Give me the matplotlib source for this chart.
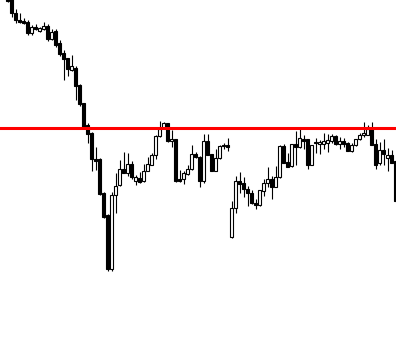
import matplotlib
matplotlib.use("Agg")
import matplotlib.pyplot as plt
import numpy as np

opens = [415, 405, 387.3, 380, 379, 377.7, 367.3, 372.7, 369.3, 371.3,
         374, 361.3, 368.7, 356.7, 346.7, 342, 330.5, 332, 315, 296.7,
         275, 267.3, 241, 240.7, 207.3, 184.7, 131, 204.7, 214.7, 230.7,
         227.3, 236, 218.7, 222, 218.7, 229.3, 235.3, 244.7, 264, 272,
         276.7, 258.7, 260.7, 220.7, 220.7, 226, 231.3, 246, 243.3, 218.7,
         258.7, 246, 229.3, 242, 255.3, 255, 162.7, 191.7, 218.7, 217.3,
         210.7, 207.3, 196.7, 194.7, 209.3, 216.7, 221, 213.3, 222.7, 254,
         238, 234, 256, 252.7, 260.7, 260.7, 235.3, 258, 256, 256,
         256.7, 258.7, 264, 256, 258.7, 257.3, 249.3, 255.3, 260.7, 264.7,
         265.3, 271.3, 256, 236.7, 250, 242, 245.3, 239.3]
highs = [420, 410, 390.7, 387.3, 381.7, 380, 374.7, 375.7, 373.3, 377.7,
         376, 371.3, 370.7, 360, 350, 342.5, 344.7, 334, 316, 297,
         276.7, 268, 253, 242, 208, 186, 208.3, 227.3, 240, 248,
         247.3, 239.3, 225, 228, 236, 243.3, 246.7, 264.7, 279.3, 278,
         277, 270, 261, 230, 229.3, 234.7, 255.3, 248, 244, 266,
         266, 246.5, 251, 254.7, 257.3, 261.7, 199.3, 224, 228, 223.3,
         214, 210, 200.7, 210.5, 221.3, 232.7, 224, 234, 255.3, 256,
         246.7, 256.5, 268.7, 273.3, 265.3, 261.3, 255, 262, 260, 266.7,
         266, 266, 264.7, 263.3, 262, 258, 256.7, 261.3, 267.3, 278,
         274.7, 278, 261.3, 258, 260.7, 252, 250, 240]
lows = [398.5, 383, 376.7, 377, 375.7, 365.3, 365.3, 369.7, 368, 370,
        359.3, 360, 353.3, 344, 320, 324, 329, 300, 294, 273,
        256.7, 229, 230, 205, 182, 129.3, 129.3, 186.7, 214, 227,
        224, 221.3, 215, 217.3, 218, 228.7, 234.7, 240.7, 263.3, 271.3,
        258, 253.3, 218, 218, 216, 225.3, 230, 242, 213.3, 217.3,
        244.7, 228.7, 228.7, 241.3, 250.7, 249.3, 162.3, 186.7, 207.3, 202.7,
        194, 196, 191.3, 194.3, 204, 213.3, 200.7, 212.7, 222, 236.7,
        232.7, 232.7, 234.7, 252, 250.7, 231.3, 234.7, 247.3, 246, 251.3,
        248, 256.7, 254.7, 250.7, 253.3, 248.7, 248, 254, 260, 263.3,
        264.7, 254.7, 231.3, 235.3, 235.3, 229.3, 236.7, 198]
closes = [399, 387, 380, 378, 377, 367.3, 373.3, 370.7, 372, 374,
          360.7, 368, 354.7, 346, 341.3, 330.7, 334, 314, 296, 273.3,
          266, 240.7, 239, 206, 182.7, 130.7, 205, 214, 230.7, 227.3,
          236, 222.7, 222.7, 218, 228.7, 236, 245.3, 264, 270.7, 276.7,
          258.7, 261.3, 219.3, 219.3, 227.3, 231.3, 246, 242.7, 218.7, 258.7,
          245.3, 229.3, 242, 254, 254, 252.7, 191.7, 219.3, 216, 210.7,
          206.7, 196.7, 194.7, 210, 217.3, 220.7, 213.3, 222.7, 254, 237.3,
          233.3, 256, 252.7, 262, 259.3, 235.3, 254.7, 256.7, 258, 258.7,
          260, 264, 256, 258.7, 256, 249.3, 255.3, 260.7, 265.3, 267.3,
          271.3, 255.3, 235.3, 250, 246, 245.3, 237.3, 198.7]

level = 272

fig = plt.figure(figsize=(3.96, 3.53), dpi=100)
ax = fig.add_axes([0, 0, 1, 1])
ax.set_facecolor("white")
fig.patch.set_facecolor("white")

o = np.array(opens); h = np.array(highs); l = np.array(lows); c = np.array(closes)
x = np.arange(len(o))
ax.vlines(x, l, h, color="black", linewidth=0.8, zorder=1)
up = c >= o
bottoms = np.minimum(o, c)
heights = np.maximum(np.abs(c - o), 0.6)
ax.bar(x, heights, bottom=bottoms, width=0.6,
       color=np.where(up, "white", "black"), edgecolor="black",
       linewidth=0.8, zorder=2)

ax.axhline(level, color="#ff0000", linewidth=2.2, zorder=3)

ax.set_xlim(-1.875, 97.125)
ax.set_ylim(47, 400)
ax.axis("off")
fig.savefig("out.png", dpi=100, facecolor="white")
